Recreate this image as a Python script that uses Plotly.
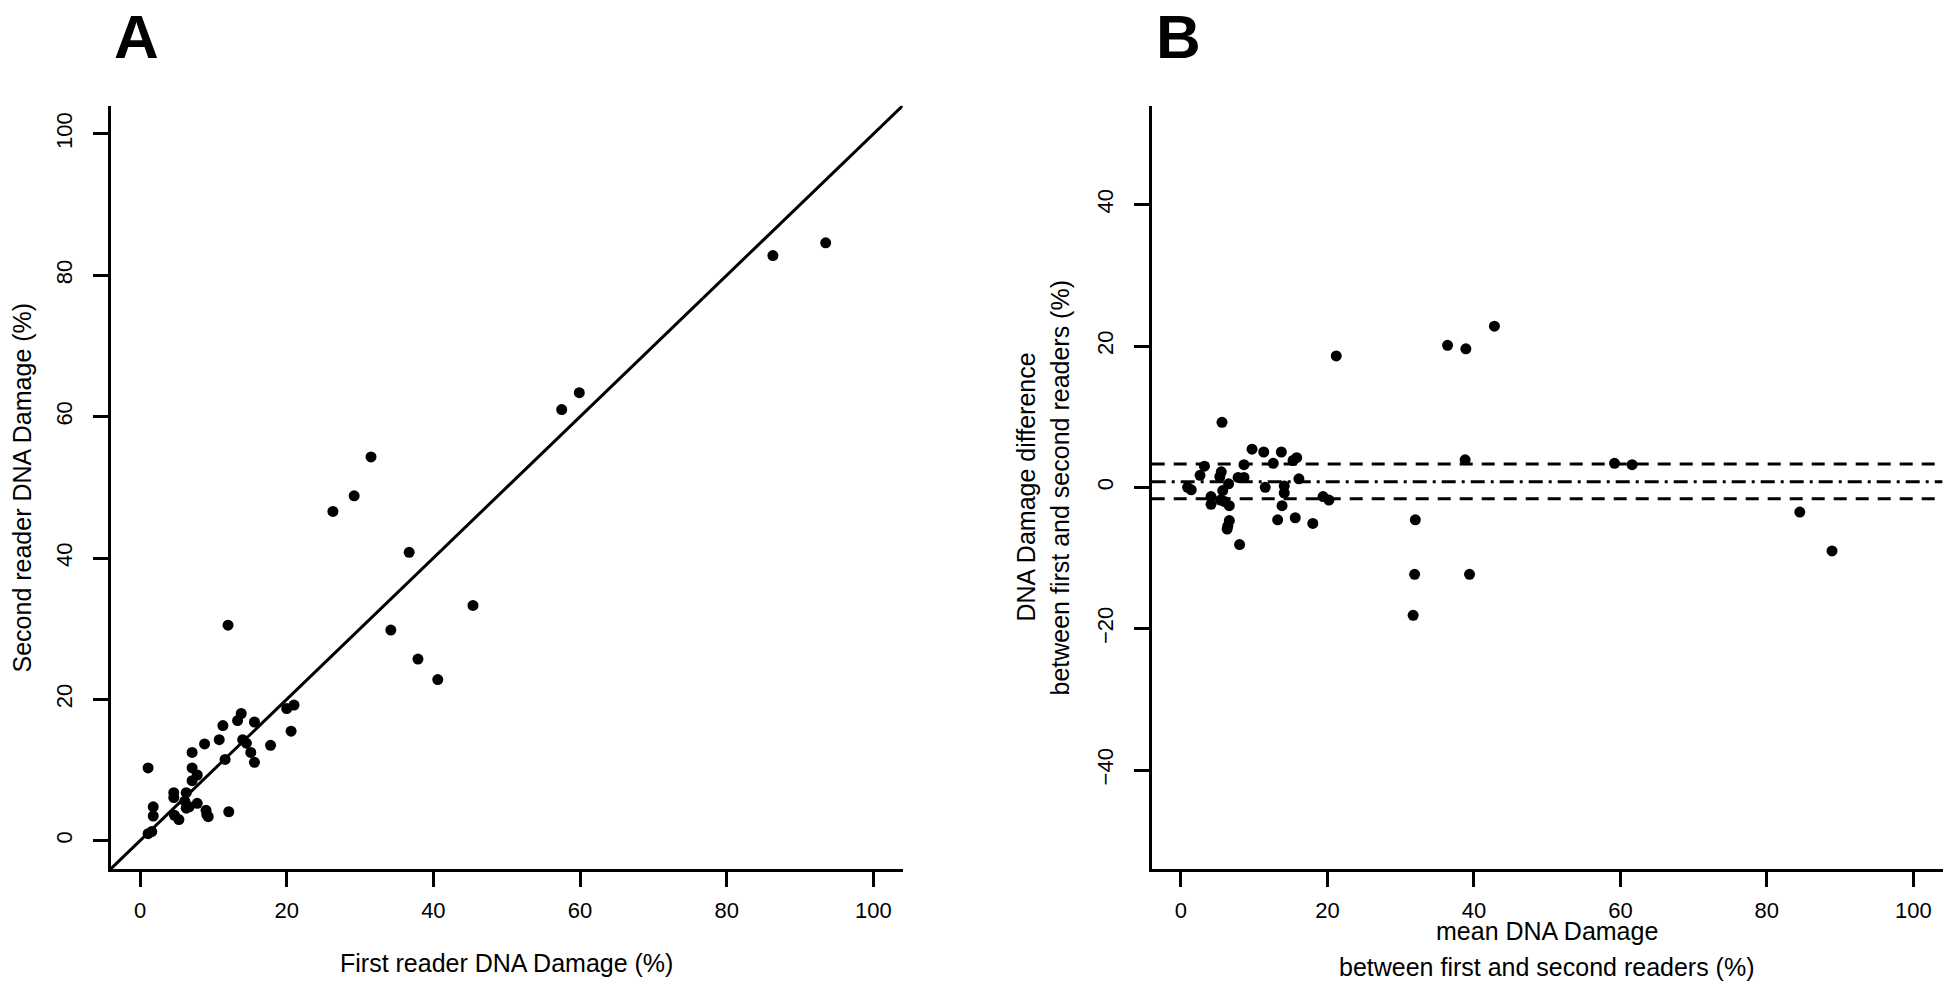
import plotly.graph_objects as go

# Panel A: first vs second reader (% DNA damage)
FIRST_READER = [93.5, 86.3, 59.9, 57.5, 31.5, 29.2, 26.3, 36.7, 45.4, 34.2,
                37.9, 40.6, 12.0, 21.0, 20.0, 20.6, 17.8, 15.6, 13.8, 13.3,
                11.3, 10.8, 8.8, 14.0, 14.5, 15.1, 15.6, 11.6, 7.1, 7.1,
                1.1, 7.8, 7.1, 4.6, 4.6, 6.3, 6.1, 6.3, 6.7, 7.8,
                1.8, 1.8, 4.7, 5.3, 9.0, 9.1, 9.3, 12.1, 1.1, 1.6]
SECOND_READER = [84.6, 82.8, 63.4, 61.0, 54.3, 48.8, 46.6, 40.8, 33.3, 29.8,
                 25.7, 22.8, 30.5, 19.2, 18.7, 15.5, 13.5, 16.8, 18.0, 17.0,
                 16.3, 14.3, 13.7, 14.3, 13.8, 12.5, 11.1, 11.5, 12.5, 10.3,
                 10.3, 9.3, 8.5, 6.8, 6.1, 6.8, 5.6, 4.6, 4.8, 5.3,
                 4.8, 3.5, 3.6, 3.0, 4.3, 3.7, 3.4, 4.1, 1.0, 1.3]

# Panel B: Bland-Altman (mean vs difference)
MEAN_DAMAGE = [21.2, 36.4, 38.9, 42.8, 38.8, 59.2, 61.6, 84.5, 88.9, 32.0,
               31.9, 39.4, 31.7, 5.6, 9.7, 11.3, 13.7, 15.8, 15.3, 12.6,
               8.6, 3.2, 2.6, 5.5, 5.3, 7.8, 8.6, 16.1, 6.5, 0.9,
               1.4, 11.5, 14.1, 14.1, 5.7, 4.1, 4.1, 5.4, 5.95, 6.6,
               19.4, 20.2, 13.8, 15.6, 13.2, 18.0, 6.6, 6.4, 6.3, 8.0]
DIFF_DAMAGE = [18.6, 20.1, 19.6, 22.8, 3.9, 3.4, 3.2, -3.5, -9.0, -4.6,
               -12.3, -12.3, -18.1, 9.2, 5.4, 5.0, 5.0, 4.2, 3.8, 3.4,
               3.2, 3.0, 1.7, 2.2, 1.5, 1.4, 1.4, 1.2, 0.5, 0.0,
               -0.35, 0.0, 0.2, -0.8, -0.45, -1.3, -2.4, -1.8, -2.0, -2.6,
               -1.3, -1.8, -2.6, -4.3, -4.6, -5.1, -4.7, -5.45, -5.9, -8.1]
MEAN_DIFF = 0.8
CI_UPPER = 3.3
CI_LOWER = -1.6

X_TICKS = [0, 20, 40, 60, 80, 100]
A_Y_TICKS = [0, 20, 40, 60, 80, 100]
B_Y_TICKS = [-40, -20, 0, 20, 40]

W, H = 1946, 983
FONT = "Liberation Sans, Arial, Helvetica, sans-serif"
TICK_SIZE = 22
TITLE_SIZE = 25
LW = 3

fig = go.Figure()
fig.add_trace(go.Scatter(x=FIRST_READER, y=SECOND_READER, mode="markers",
                         marker=dict(color="black", size=11), xaxis="x", yaxis="y",
                         cliponaxis=False))
fig.add_trace(go.Scatter(x=MEAN_DAMAGE, y=DIFF_DAMAGE, mode="markers",
                         marker=dict(color="black", size=11), xaxis="x2", yaxis="y2",
                         cliponaxis=False))

# identity line
fig.add_shape(type="line", xref="x", yref="y", x0=-4, y0=-4, x1=104, y1=104,
              line=dict(color="black", width=LW))
# mean difference and its confidence bounds
for val, dash in [(CI_UPPER, "13px,9px"), (MEAN_DIFF, "14px,6px,3px,6px"), (CI_LOWER, "13px,9px")]:
    fig.add_shape(type="line", xref="x2", yref="y2", x0=-4, x1=104, y0=val, y1=val,
                  line=dict(color="black", width=LW, dash=dash))

axis_common = dict(showline=True, linecolor="black", linewidth=LW, ticks="outside",
                   ticklen=15, tickwidth=LW, tickcolor="black", showgrid=False,
                   zeroline=False, mirror=False,
                   tickfont=dict(family=FONT, size=TICK_SIZE, color="black"))

y_dom = [114 / H, 877.3 / H]
fig.update_layout(
    width=W, height=H,
    margin=dict(l=0, r=0, t=0, b=0),
    paper_bgcolor="white", plot_bgcolor="white",
    showlegend=False,
    xaxis=dict(domain=[110.7 / W, 902.7 / W], range=[-4, 104], tickvals=X_TICKS,
               anchor="y", ticklabelstandoff=5, **axis_common),
    yaxis=dict(domain=y_dom, range=[-4, 104], tickvals=A_Y_TICKS, anchor="x",
               tickangle=-90, ticklabelstandoff=12, **axis_common),
    xaxis2=dict(domain=[1151.7 / W, 1942.6 / W], range=[-4, 104], tickvals=X_TICKS,
                anchor="y2", ticklabelstandoff=5, **axis_common),
    yaxis2=dict(domain=y_dom, range=[-54, 54], tickvals=B_Y_TICKS, anchor="x2",
                tickangle=-90, ticklabelstandoff=12, **axis_common),
)


def label(text, x, y, size=TITLE_SIZE, angle=0, bold=False, yanchor="middle"):
    fig.add_annotation(text=f"<b>{text}</b>" if bold else text,
                       xref="paper", yref="paper", x=x / W, y=1 - y / H,
                       xanchor="center", yanchor=yanchor, showarrow=False,
                       textangle=angle, font=dict(family=FONT, size=size, color="black"))


label("A", 136, 0, size=62, bold=True, yanchor="top")
label("B", 1178, 0, size=62, bold=True, yanchor="top")
label("First reader DNA Damage (%)", 506.7, 963)
label("Second reader DNA Damage (%)", 21, 487.5, angle=-90)
label("mean DNA Damage", 1547, 931)
label("between first and second readers (%)", 1547, 967)
label("DNA Damage difference", 1025, 487.5, angle=-90)
label("between first and second readers (%)", 1059, 487.5, angle=-90)

fig.write_html("out.html", config={"displayModeBar": False},
               post_script="document.body.style.margin='0px';document.body.style.overflow='hidden';")
